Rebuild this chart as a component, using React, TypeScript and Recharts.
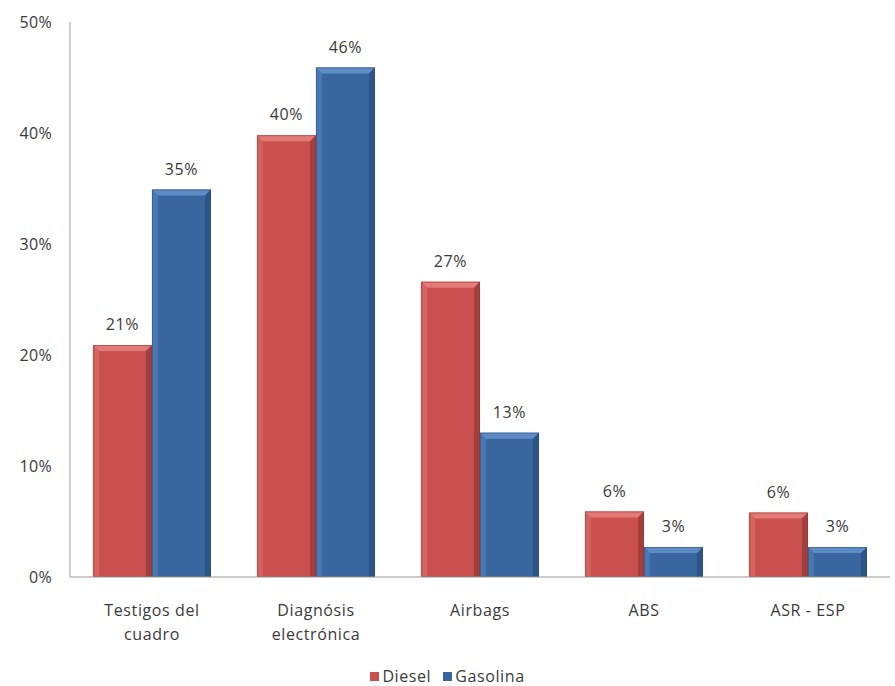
import React from 'react';
import { ComposedChart, Bar, XAxis, YAxis, LabelList } from 'recharts';

const categories = ['Testigos del cuadro', 'Diagnósis electrónica', 'Airbags', 'ABS', 'ASR - ESP'];
const diesel = [20.9, 39.8, 26.6, 5.9, 5.8];
const gasolina = [34.9, 45.9, 13.0, 2.7, 2.7];
const yTicks = [0, 10, 20, 30, 40, 50];

const data = categories.map((name, i) => ({ name, diesel: diesel[i], gasolina: gasolina[i] }));

const FONT = '"Open Sans", Lato, sans-serif';
const TEXT = '#3a3a3a';

const makeBevel = (base: string, light: string, dark: string) => (props: any) => {
  const { x, y, width: w, height: h } = props;
  if (!h || h <= 0) return null;
  const b = Math.min(6, h / 3, w / 4);
  return (
    <g>
      <rect x={x} y={y} width={w} height={h} fill={base} />
      <polygon points={`${x},${y} ${x + w},${y} ${x + w - b},${y + b} ${x + b},${y + b}`} fill={light} />
      <polygon points={`${x},${y} ${x + b},${y + b} ${x + b},${y + h} ${x},${y + h}`} fill={light} opacity={0.45} />
      <polygon points={`${x + w},${y} ${x + w - b},${y + b} ${x + w - b},${y + h} ${x + w},${y + h}`} fill={dark} opacity={0.6} />
      <rect x={x + 0.5} y={y + 0.5} width={w - 1} height={h - 1} fill="none" stroke={dark} strokeWidth={1} opacity={0.5} />
    </g>
  );
};

const DieselShape = makeBevel('#C9504E', '#E27A77', '#8E3331');
const GasShape = makeBevel('#3A66A0', '#5E8CC6', '#274a78');

const wrap = (s: string) => {
  const words = s.split(' ');
  if (s.length <= 12) return [s];
  const lines: string[] = [];
  let cur = '';
  words.forEach(w => {
    const next = cur ? cur + ' ' + w : w;
    if (next.length > 12 && cur) {
      lines.push(cur);
      cur = w;
    } else cur = next;
  });
  if (cur) lines.push(cur);
  return lines;
};

const CatTick = (props: any) => {
  const { x, y, payload } = props;
  const lines = wrap(payload.value);
  return (
    <g>
      {lines.map((l, i) => (
        <text key={i} x={x} y={y + 31 + i * 24} textAnchor="middle" fill={TEXT} fontSize={16} fontFamily={FONT} letterSpacing={0.6}>
          {l}
        </text>
      ))}
    </g>
  );
};

const LegendBox = () => (
  <div style={{ position: 'absolute', left: 0, top: 666, width: 895, display: 'flex', justifyContent: 'center', fontFamily: FONT, fontSize: 16, color: TEXT, letterSpacing: 0.6, lineHeight: '20px' }}>
    <span style={{ display: 'flex', alignItems: 'center', marginRight: 12 }}>
      <span style={{ width: 9, height: 9, background: '#C9504E', marginRight: 3, display: 'inline-block' }} />
      Diesel
    </span>
    <span style={{ display: 'flex', alignItems: 'center' }}>
      <span style={{ width: 9, height: 9, background: '#3A66A0', marginRight: 3, display: 'inline-block' }} />
      Gasolina
    </span>
  </div>
);

const fmt = (v: any) => `${Math.round(Number(v))}%`;

export default function App() {
  return (
    <div style={{ position: 'absolute', left: 0, top: 0, width: 895, height: 686, background: '#fff' }}>
      <ComposedChart width={895} height={686} data={data} margin={{ top: 22, right: 5, bottom: 29, left: 0 }} barCategoryGap="14%" barGap={0}>
        <XAxis dataKey="name" axisLine={{ stroke: '#999' }} tickLine={false} tick={<CatTick />} height={80} interval={0} />
        <YAxis
          domain={[0, 50]}
          ticks={yTicks}
          tickFormatter={fmt}
          axisLine={{ stroke: '#999' }}
          tickLine={false}
          tickSize={0}
          tickMargin={18}
          width={70}
          tick={{ fill: TEXT, fontSize: 16, fontFamily: FONT, letterSpacing: 0.3 }}
        />
        <Bar dataKey="diesel" name="Diesel" fill="#C9504E" shape={DieselShape} isAnimationActive={false}>
          <LabelList dataKey="diesel" position="top" offset={15} formatter={fmt} fill={TEXT} fontSize={16} fontFamily={FONT} letterSpacing={0.6} />
        </Bar>
        <Bar dataKey="gasolina" name="Gasolina" fill="#3A66A0" shape={GasShape} isAnimationActive={false}>
          <LabelList dataKey="gasolina" position="top" offset={15} formatter={fmt} fill={TEXT} fontSize={16} fontFamily={FONT} letterSpacing={0.6} />
        </Bar>
      </ComposedChart>
      <LegendBox />
    </div>
  );
}
